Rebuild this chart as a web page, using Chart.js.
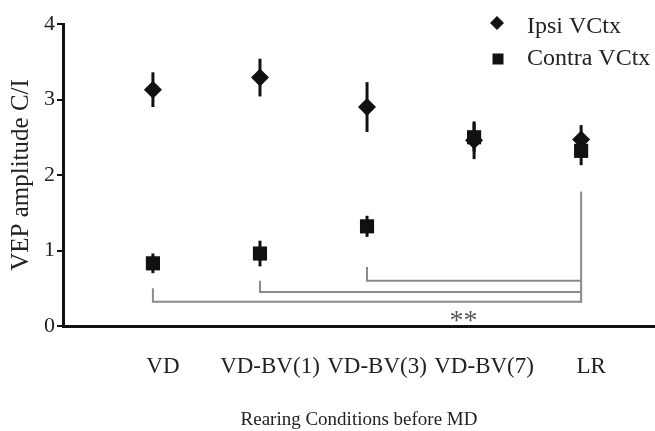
<!DOCTYPE html>
<html><head><meta charset="utf-8">
<script src="https://cdn.jsdelivr.net/npm/chart.js@4/dist/chart.umd.min.js"></script>
<style>html,body{margin:0;padding:0;background:#fff;} canvas{display:block;}</style>
</head><body>
<canvas id="c" width="655" height="431"></canvas>
<script>
const categories = ['VD', 'VD-BV(1)', 'VD-BV(3)', 'VD-BV(7)', 'LR'];
const ipsiValues = [3.13, 3.29, 2.90, 2.46, 2.47];
const ipsiErrors = [0.23, 0.25, 0.33, 0.25, 0.19];
const contraValues = [0.83, 0.96, 1.32, 2.50, 2.32];
const contraErrors = [0.13, 0.17, 0.14, 0.19, 0.19];
const yTicks = [0, 1, 2, 3, 4];
const seriesNames = ['Ipsi VCtx', 'Contra VCtx'];
// significance brackets (each group compared to LR)
const bracketFrom = [0, 1, 2];
const bracketStart = [0.50, 0.60, 0.78];
const bracketLevel = [0.32, 0.45, 0.60];
const bracketTo = 4;
const bracketTop = 1.78;
const sigLabel = '**';
const sigX = 2.9;
const sigY = 0.13;

const SERIF = '"Liberation Serif", "Times New Roman", serif';
const GRAY = '#8a8a8a';

const errorBars = {
  id: 'errorBars',
  beforeDatasetsDraw(chart) {
    const ctx = chart.ctx, xs = chart.scales.x, ys = chart.scales.y;
    const sets = [[ipsiValues, ipsiErrors], [contraValues, contraErrors]];
    ctx.save();
    ctx.strokeStyle = '#111';
    ctx.lineWidth = 3;
    sets.forEach(([vals, errs]) => {
      vals.forEach((v, i) => {
        const x = xs.getPixelForValue(i);
        ctx.beginPath();
        ctx.moveTo(x, ys.getPixelForValue(v - errs[i]));
        ctx.lineTo(x, ys.getPixelForValue(v + errs[i]));
        ctx.stroke();
      });
    });
    ctx.restore();
  }
};

const brackets = {
  id: 'brackets',
  afterDatasetsDraw(chart) {
    const ctx = chart.ctx, xs = chart.scales.x, ys = chart.scales.y;
    ctx.save();
    ctx.strokeStyle = GRAY;
    ctx.lineWidth = 2;
    const xr = xs.getPixelForValue(bracketTo);
    bracketFrom.forEach((f, i) => {
      const x = xs.getPixelForValue(f);
      const yl = ys.getPixelForValue(bracketLevel[i]);
      ctx.beginPath();
      ctx.moveTo(x, ys.getPixelForValue(bracketStart[i]));
      ctx.lineTo(x, yl);
      ctx.lineTo(xr, yl);
      ctx.stroke();
    });
    ctx.beginPath();
    ctx.moveTo(xr, ys.getPixelForValue(bracketTop));
    ctx.lineTo(xr, ys.getPixelForValue(Math.min(...bracketLevel)) + 1);
    ctx.stroke();
    const fs = 28;
    ctx.fillStyle = '#555';
    ctx.font = fs + 'px ' + SERIF;
    ctx.textAlign = 'center';
    ctx.textBaseline = 'alphabetic';
    ctx.fillText(sigLabel, xs.getPixelForValue(sigX), ys.getPixelForValue(sigY) + 0.47 * fs);
    ctx.restore();
  }
};

const customLegend = {
  id: 'customLegend',
  afterDraw(chart) {
    const ctx = chart.ctx;
    ctx.save();
    ctx.fillStyle = '#111';
    const dx = 497, dy = 23, r = 7;
    ctx.beginPath();
    ctx.moveTo(dx, dy - r); ctx.lineTo(dx + r, dy); ctx.lineTo(dx, dy + r); ctx.lineTo(dx - r, dy);
    ctx.closePath(); ctx.fill();
    ctx.fillRect(492.5, 53.5, 11, 11);
    ctx.font = '24px ' + SERIF;
    ctx.fillStyle = '#222';
    ctx.textAlign = 'left';
    ctx.textBaseline = 'alphabetic';
    ctx.fillText(seriesNames[0], 527, 33);
    ctx.fillText(seriesNames[1], 527, 65);
    ctx.restore();
  }
};

new Chart(document.getElementById('c'), {
  type: 'scatter',
  data: {
    datasets: [
      {
        label: seriesNames[1],
        data: contraValues.map((v, i) => ({x: i, y: v})),
        pointStyle: 'rect', pointRadius: 10, pointHoverRadius: 10,
        backgroundColor: '#111', borderColor: '#111', borderWidth: 0,
        order: 1
      },
      {
        label: seriesNames[0],
        data: ipsiValues.map((v, i) => ({x: i, y: v})),
        pointStyle: 'rectRot', pointRadius: 9, pointHoverRadius: 9,
        backgroundColor: '#111', borderColor: '#111', borderWidth: 0,
        order: 2
      }
    ]
  },
  options: {
    responsive: false,
    animation: false,
    devicePixelRatio: 1,
    layout: {autoPadding: false, padding: {top: 24, right: 0, bottom: 0, left: 0}},
    plugins: {legend: {display: false}, tooltip: {enabled: false}},
    scales: {
      x: {
        type: 'linear', min: -0.84, max: 4.69,
        afterBuildTicks: s => { s.ticks = categories.map((c, i) => ({value: i})); },
        afterFit: s => { s.height = 105; s.paddingLeft = 0; s.paddingRight = 0; },
        grid: {display: false, drawTicks: false},
        border: {display: true, color: '#111', width: 3},
        ticks: {
          callback: v => categories[v] ?? '',
          color: '#222', font: {family: SERIF, size: 23},
          padding: 27, labelOffset: 10, maxRotation: 0, autoSkip: false
        },
        title: {
          display: true, text: 'Rearing Conditions before MD',
          color: '#222', font: {family: SERIF, size: 19},
          padding: {top: 0, bottom: 0}
        }
      },
      y: {
        min: 0, max: 4,
        afterBuildTicks: s => { s.ticks = yTicks.map(v => ({value: v})); },
        afterFit: s => { s.width = 63; },
        grid: {display: true, drawOnChartArea: false, drawTicks: true, tickLength: 6, color: '#111', lineWidth: 2},
        border: {display: true, color: '#111', width: 3},
        ticks: {color: '#222', font: {family: SERIF, size: 22}, padding: 2},
        title: {
          display: true, text: 'VEP amplitude C/I',
          color: '#222', font: {family: SERIF, size: 25},
          padding: {top: 6, bottom: 0}
        }
      }
    }
  },
  plugins: [errorBars, brackets, customLegend]
});
</script>
</body></html>
